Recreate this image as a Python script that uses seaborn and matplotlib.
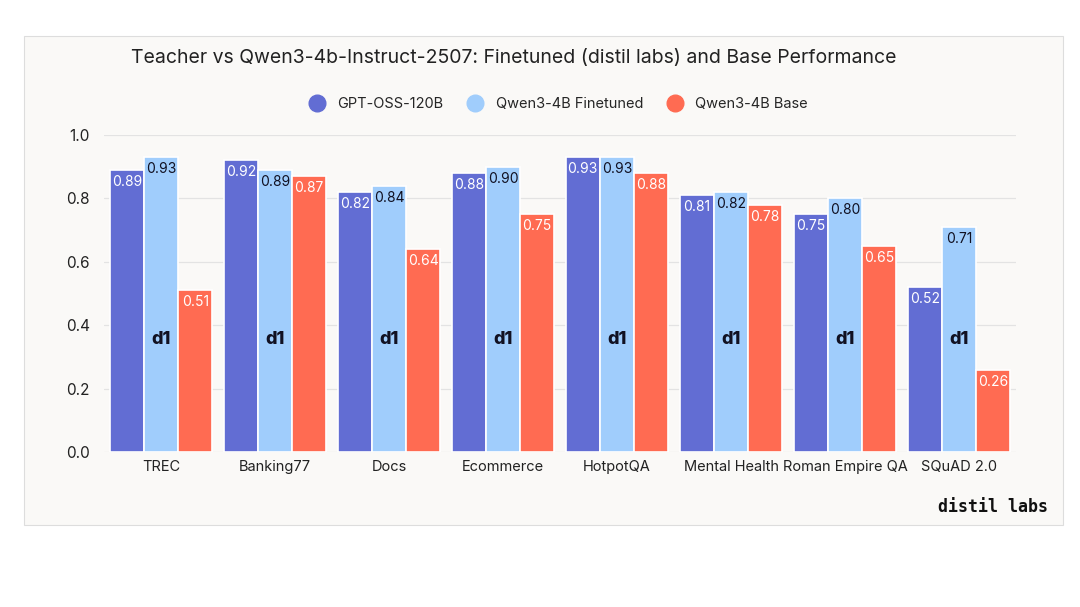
import numpy as np
import pandas as pd
import matplotlib
matplotlib.use("Agg")
import matplotlib.pyplot as plt
from matplotlib.patches import Rectangle
from matplotlib.lines import Line2D
import seaborn as sns

# data
datasets = ['TREC', 'Banking77', 'Docs', 'Ecommerce', 'HotpotQA',
            'Mental Health', 'Roman Empire QA', 'SQuAD 2.0']
models = ['GPT-OSS-120B', 'Qwen3-4B Finetuned', 'Qwen3-4B Base']
teacher = [0.89, 0.92, 0.82, 0.88, 0.93, 0.81, 0.75, 0.52]
finetuned = [0.93, 0.89, 0.84, 0.90, 0.93, 0.82, 0.80, 0.71]
base = [0.51, 0.87, 0.64, 0.75, 0.88, 0.78, 0.65, 0.26]
colors = ['#626dd3', '#a0cdfc', '#ff6b52']
label_colors = ['white', '#111122', 'white']

df = pd.DataFrame({
    'Dataset': datasets * 3,
    'Model': [m for m in models for _ in datasets],
    'Score': teacher + finetuned + base,
})

sns.set_style('white')
plt.rcParams['font.family'] = ['Inter', 'DejaVu Sans']

fig = plt.figure(figsize=(10.8, 6.07), dpi=100)
fig.patch.set_facecolor('white')
# light panel behind the chart
fig.patches.append(Rectangle((24 / 1080, 1 - 525 / 607), 1039 / 1080, 489 / 607,
                             transform=fig.transFigure, facecolor='#faf9f7',
                             edgecolor='#dddddd', linewidth=0.8, zorder=-5))

ax = fig.add_axes([104 / 1080, 1 - 452 / 607, 912 / 1080, 317 / 607])
ax.set_facecolor('none')

sns.barplot(data=df, x='Dataset', y='Score', hue='Model', palette=colors,
            saturation=1, width=0.9, edgecolor='white', linewidth=1.2,
            legend=False, ax=ax)

for cont, tc in zip(ax.containers, label_colors):
    for bar in cont:
        h = bar.get_height()
        ax.text(bar.get_x() + bar.get_width() / 2, h - 0.016, f'{h:.2f}',
                ha='center', va='top', color=tc, fontsize=10)

# "d1" mark on finetuned bars
for bar in ax.containers[1]:
    ax.text(bar.get_x() + bar.get_width() / 2, 0.355, 'd1', ha='center',
            va='center', color='#111122', fontsize=13, fontweight='heavy')

ax.set_ylim(0, 1.0)
ax.set_yticks(np.arange(0, 1.01, 0.2))
ax.set_yticklabels([f'{v:.1f}' for v in np.arange(0, 1.01, 0.2)])
ax.yaxis.grid(True, color='#e3e3e3', linewidth=0.9)
ax.set_axisbelow(True)
ax.tick_params(axis='both', length=0, labelsize=10.5, colors='#222222')
ax.tick_params(axis='y', pad=10, labelsize=11)
ax.tick_params(axis='x', pad=6)
ax.set_xlabel('')
ax.set_ylabel('')
sns.despine(ax=ax, left=True, bottom=True)

fig.text(514 / 1080, 1 - 58 / 607,
         'Teacher vs Qwen3-4b-Instruct-2507: Finetuned (distil labs) and Base Performance',
         ha='center', va='center', fontsize=14, color='#222222')

handles = [Line2D([], [], marker='o', linestyle='', markersize=12,
                  markerfacecolor=c, markeredgecolor=c) for c in colors]
fig.legend(handles, models, loc='center', bbox_to_anchor=(555 / 1080, 1 - 104 / 607),
           ncol=3, frameon=False, fontsize=10.5, handletextpad=0.4,
           columnspacing=1.2)

fig.text(1048 / 1080, 1 - 507 / 607, 'distil labs', ha='right', va='center',
         fontsize=12, fontweight='bold', family='DejaVu Sans Mono', color='#111111')

fig.savefig('out.png', dpi=100, facecolor='white')
